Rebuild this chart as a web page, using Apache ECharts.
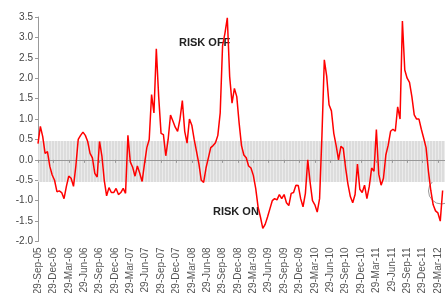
<!DOCTYPE html>
<html>
<head>
<meta charset="utf-8">
<script src="https://cdn.jsdelivr.net/npm/echarts@6/dist/echarts.min.js"></script>
<style>
  html, body { margin: 0; padding: 0; background: #fff; }
  #chart { width: 445px; height: 293px; }
</style>
</head>
<body>
<div id="chart"></div>
<script>
// quarter labels on the x axis (one every 13 weeks)
const tickLabels = [
  '29-Sep-05', '29-Dec-05', '29-Mar-06', '29-Jun-06', '29-Sep-06', '29-Dec-06',
  '29-Mar-07', '29-Jun-07', '29-Sep-07', '29-Dec-07', '29-Mar-08', '29-Jun-08',
  '29-Sep-08', '29-Dec-08', '29-Mar-09', '29-Jun-09', '29-Sep-09', '29-Dec-09',
  '29-Mar-10', '29-Jun-10', '29-Sep-10', '29-Dec-10', '29-Mar-11', '29-Jun-11',
  '29-Sep-11', '29-Dec-11', '29-Mar-12'
]
const weeksPerTick = 13
const weekStep = 2 // one reading every two weeks

// risk index
const riskIndex = [
  0.4, 0.82, 0.57, 0.16, 0.2, -0.16, -0.37, -0.5, -0.78, -0.76, -0.8, -0.95, -0.65,
  -0.4, -0.45, -0.65, -0.15, 0.5, 0.6, 0.68, 0.6, 0.45, 0.16, 0.05, -0.33, -0.42,
  0.45, 0.1, -0.5, -0.88, -0.68, -0.8, -0.8, -0.7, -0.85, -0.8, -0.7, -0.82, 0.6,
  -0.05, -0.18, -0.4, -0.15, -0.33, -0.53, -0.1, 0.3, 0.5, 1.6, 1.15, 2.72, 1.55,
  0.65, 0.62, 0.1, 0.5, 1.1, 0.95, 0.8, 0.7, 1.0, 1.45, 0.7, 0.41, 1.0, 0.85,
  0.5, 0.2, -0.1, -0.5, -0.55, -0.2, 0.05, 0.3, 0.35, 0.42, 0.6, 1.15, 2.8,
  3.1, 3.48, 2.04, 1.39, 1.75, 1.55, 0.9, 0.35, 0.12, 0.05, -0.15, -0.2, -0.38,
  -0.7, -1.15, -1.4, -1.68, -1.58, -1.4, -1.2, -1.0, -0.95, -0.98, -0.85, -0.95,
  -0.85, -1.05, -1.12, -0.82, -0.8, -0.62, -0.63, -0.95, -1.15, -0.82, 0.0, -0.55,
  -1.0, -1.1, -1.28, -0.95, 0.6, 2.45, 2.05, 1.35, 1.2, 0.65, 0.35, 0.0, 0.33,
  0.28, -0.2, -0.6, -0.9, -1.05, -0.85, -0.1, -0.72, -0.8, -0.62, -0.95, -0.65,
  -0.2, -0.28, 0.74, -0.35, -0.62, -0.45, 0.12, 0.36, 0.7, 0.75, 0.7, 1.3, 1.0,
  3.4, 2.2, 2.0, 1.9, 1.55, 1.1, 1.0, 1.0, 0.75, 0.53, 0.3, -0.28, -0.75, -1.1,
  -1.25, -1.3, -1.5, -0.75
]

// shaded "neutral" band
const bandRange = [0.46, -0.54]

const seriesData = riskIndex.map((v, i) => [i * weekStep, v])

// light grey hatched fill for the band
const pat = document.createElement('canvas')
pat.width = 3
pat.height = 3
const pctx = pat.getContext('2d')
pctx.fillStyle = '#dcdcdc'
pctx.fillRect(0, 0, 3, 3)
pctx.fillStyle = '#ebebeb'
pctx.fillRect(0, 0, 1, 3)

const chart = echarts.init(document.getElementById('chart'))
chart.setOption({
  animation: false,
  grid: {
    left: 38, right: 0, top: 17, bottom: 51.5,
    containLabel: false,
    outerBoundsMode: 'none'
  },
  xAxis: {
    type: 'value',
    min: 0,
    max: 344,
    interval: weeksPerTick,
    z: 1.5,
    axisLine: { onZero: true, lineStyle: { color: '#999', width: 1 } },
    axisTick: { show: true, length: 3, lineStyle: { color: '#999' } },
    splitLine: { show: false },
    axisLabel: {
      rotate: 90,
      margin: 6,
      fontFamily: 'Arial, Liberation Sans',
      fontSize: 10,
      color: '#555',
      formatter: (val) => {
        if (val % weeksPerTick !== 0) return ''
        return tickLabels[val / weeksPerTick] || ''
      }
    }
  },
  yAxis: {
    type: 'value',
    min: -2,
    max: 3.5,
    interval: 0.5,
    axisLine: { show: true, lineStyle: { color: '#999', width: 1 } },
    axisTick: { show: true, length: 3, lineStyle: { color: '#999' } },
    splitLine: { show: false },
    axisLabel: {
      margin: 5,
      fontFamily: 'Arial, Liberation Sans',
      fontSize: 10,
      color: '#444',
      formatter: (v) => v.toFixed(1)
    }
  },
  series: [{
    type: 'line',
    data: seriesData,
    showSymbol: false,
    lineStyle: { color: '#ff0000', width: 1.5 },
    markArea: {
      silent: true,
      itemStyle: { color: { image: pat, repeat: 'repeat' } },
      data: [[{ yAxis: bandRange[0] }, { yAxis: bandRange[1] }]]
    }
  }],
  graphic: [
    {
      type: 'text',
      left: 179,
      top: 37,
      style: { text: 'RISK OFF', font: 'bold 11px Arial, Liberation Sans', fill: '#222' }
    },
    {
      type: 'text',
      left: 213,
      top: 206,
      style: { text: 'RISK ON', font: 'bold 11px Arial, Liberation Sans', fill: '#222' }
    },
    {
      type: 'circle',
      shape: { cx: 441.5, cy: 191, r: 13 },
      style: { fill: 'none', stroke: '#999', lineWidth: 1 }
    }
  ]
})
</script>
</body>
</html>
